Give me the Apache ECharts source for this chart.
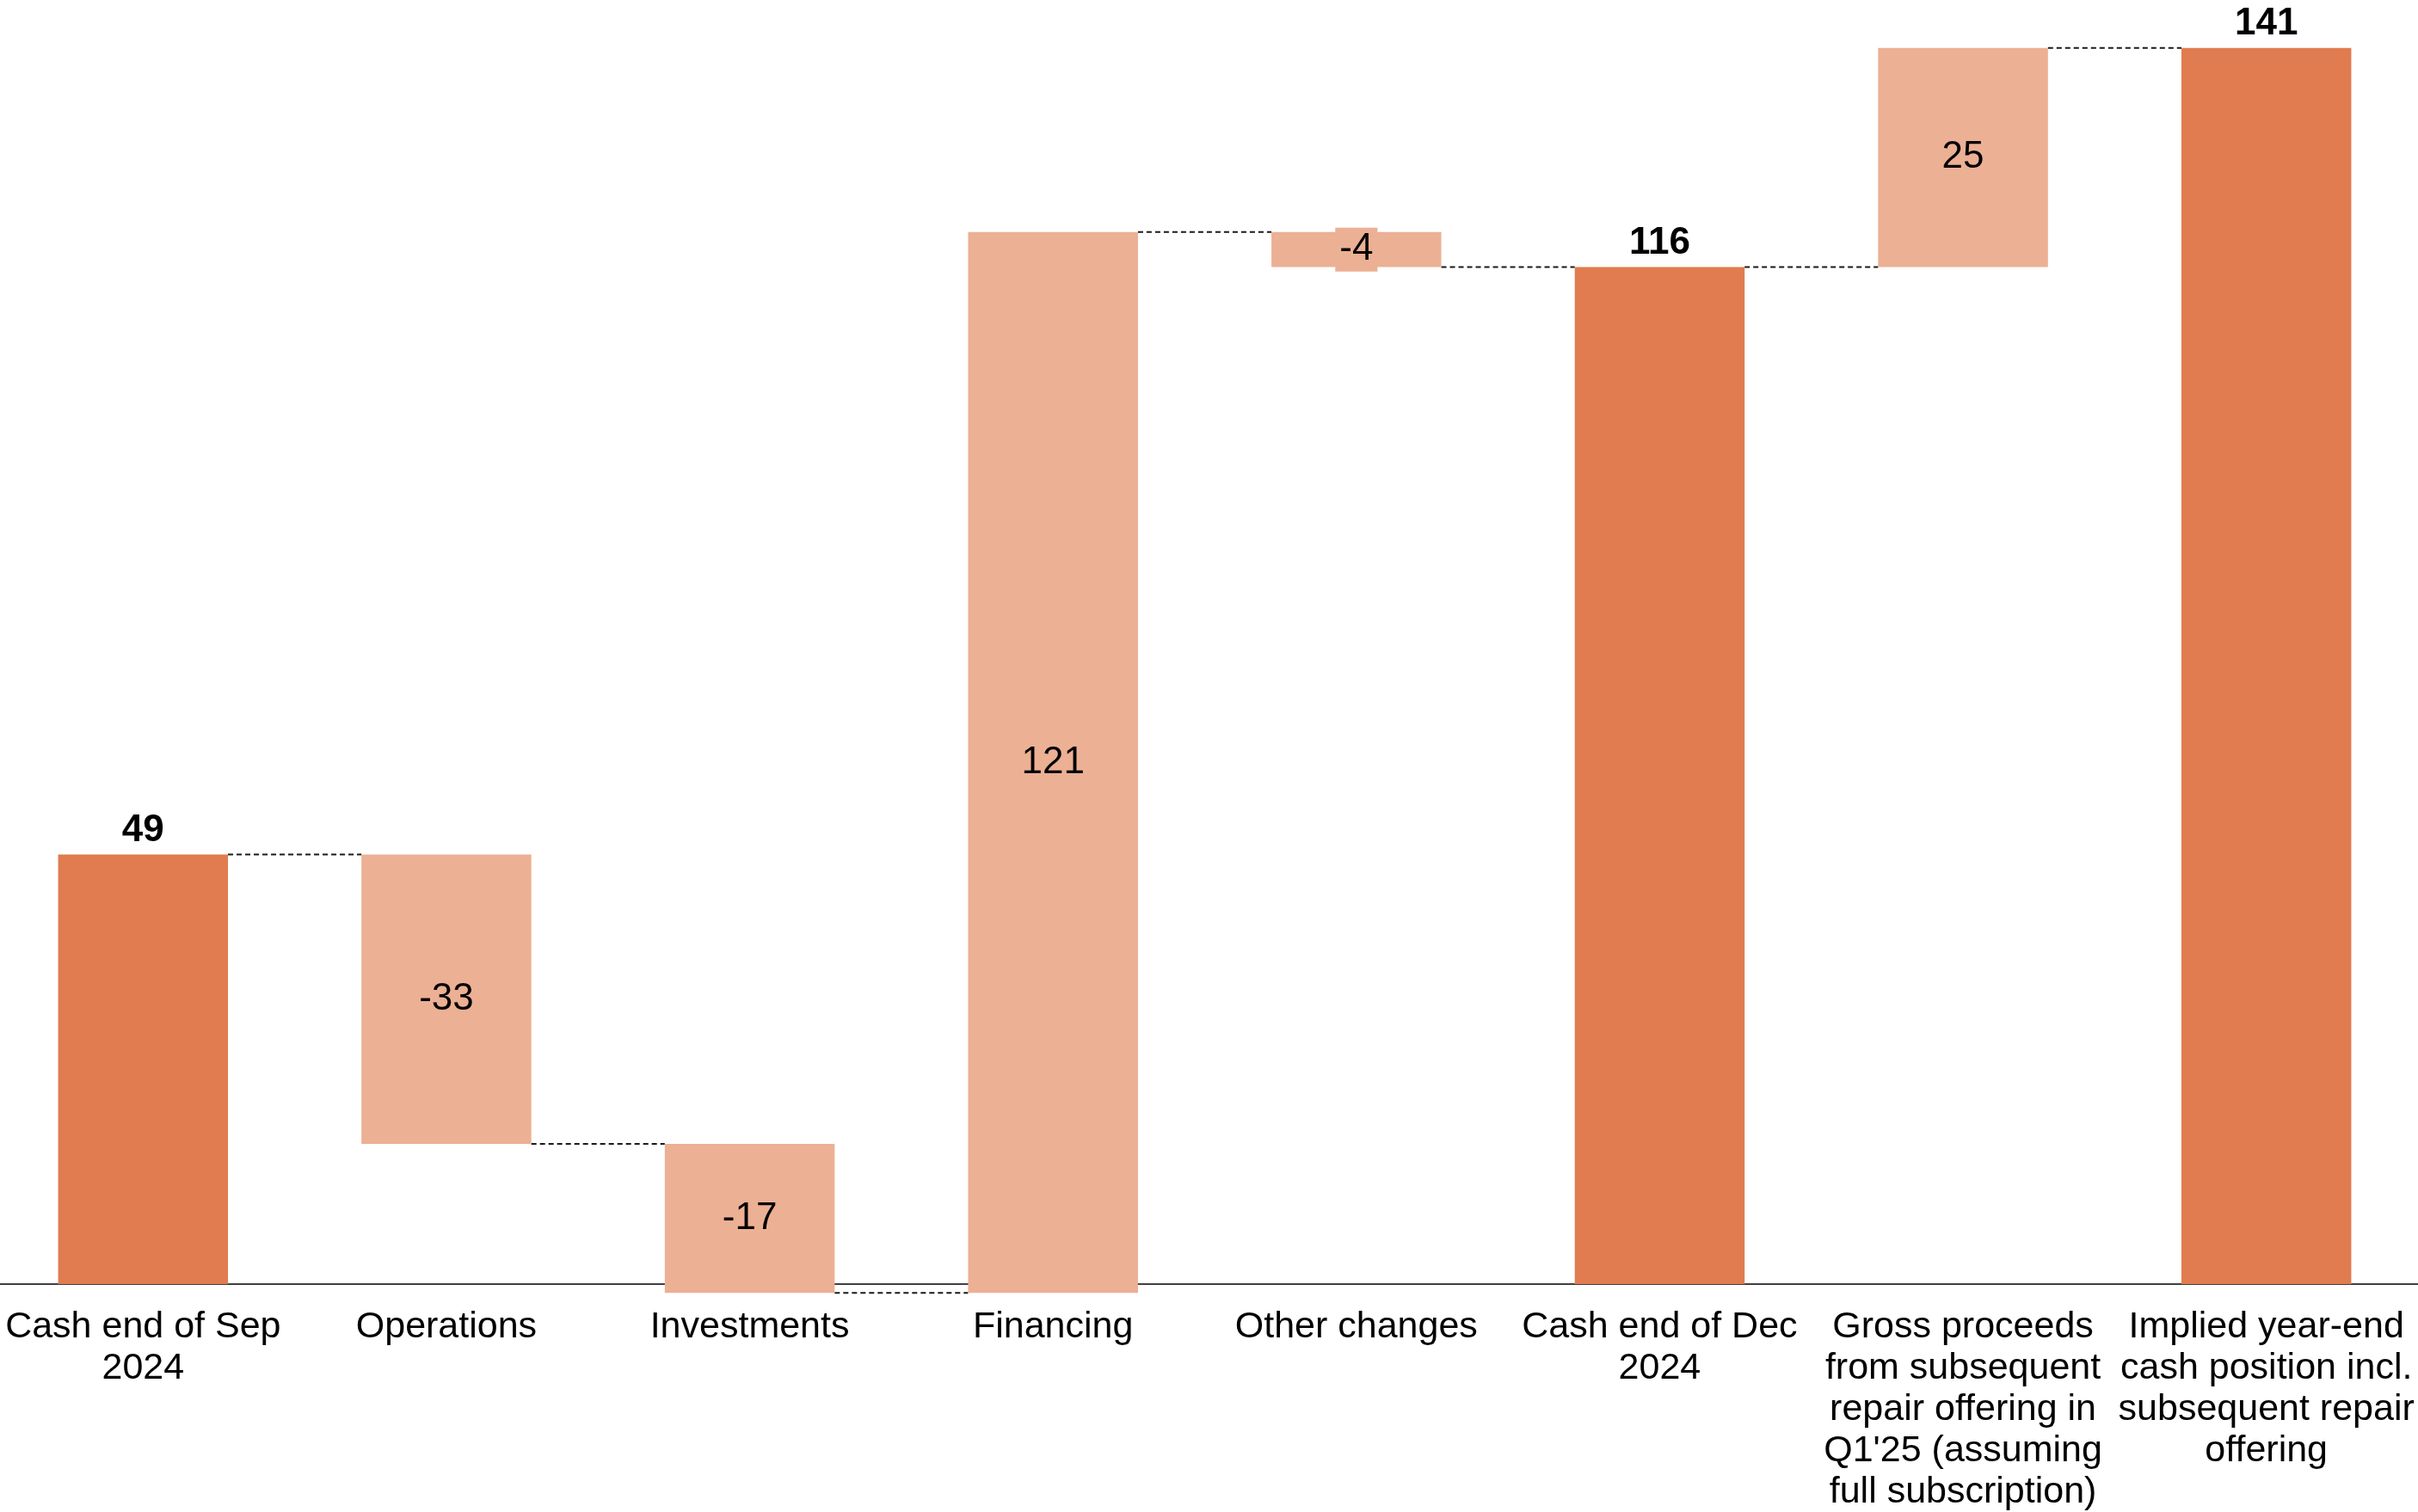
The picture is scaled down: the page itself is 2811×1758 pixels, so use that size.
<!DOCTYPE html>
<html>
<head>
<meta charset="utf-8">
<title>Cash bridge</title>
<script src="https://cdn.jsdelivr.net/npm/echarts@6/dist/echarts.min.js"></script>
<style>
  html, body { margin: 0; padding: 0; background: #ffffff; }
  #chart { width: 2811px; height: 1758px; }
</style>
</head>
<body>
<div id="chart"></div>
<script>
// Cash bridge, in millions
const categories = [
  'Cash end of Sep\n2024',
  'Operations',
  'Investments',
  'Financing',
  'Other changes',
  'Cash end of Dec\n2024',
  "Gross proceeds\nfrom subsequent\nrepair offering in\nQ1'25 (assuming\nfull subscription)",
  'Implied year-end\ncash position incl.\nsubsequent repair\noffering'
];
const values = [49, -33, -17, 121, -4, 116, 25, 141];
const isTotal = [true, false, false, false, false, true, false, true];

const FONT = '"Liberation Sans", Arial, Helvetica, sans-serif';
const DARK = '#E07C4F';
const LIGHT = '#ECB094';
const BAR_RATIO = 0.56;

// Floating segments [index, low, high, value] and running level after each step
const segments = [];
const links = [];
let running = 0;
values.forEach((v, i) => {
  let lo, hi;
  if (isTotal[i]) {
    lo = 0; hi = v; running = v;
  } else {
    const start = running;
    running += v;
    lo = Math.min(start, running);
    hi = Math.max(start, running);
  }
  segments.push([i, lo, hi, v]);
  if (i < values.length - 1) links.push([i, running]);
});

function renderBar(params, api) {
  const i = api.value(0);
  const lo = api.value(1);
  const hi = api.value(2);
  const v = api.value(3);
  const top = api.coord([i, hi]);
  const bot = api.coord([i, lo]);
  const bw = api.size([1, 0])[0] * BAR_RATIO;
  const total = isTotal[i];
  const thin = Math.abs(bot[1] - top[1]) < 50;
  return {
    type: 'rect',
    shape: { x: top[0] - bw / 2, y: top[1], width: bw, height: bot[1] - top[1] },
    style: { fill: total ? DARK : LIGHT },
    textContent: {
      style: {
        text: String(v),
        fill: '#000000',
        fontSize: 44,
        fontFamily: FONT,
        fontWeight: total ? 'bold' : 'normal',
        lineHeight: 47,
        backgroundColor: thin ? LIGHT : 'transparent',
        padding: thin ? [2, 5] : 0
      }
    },
    textConfig: { position: total ? 'top' : 'inside', distance: 4 }
  };
}

function renderLink(params, api) {
  const i = api.value(0);
  const lvl = api.value(1);
  const bw = api.size([1, 0])[0] * BAR_RATIO;
  const a = api.coord([i, lvl]);
  const b = api.coord([i + 1, lvl]);
  return {
    type: 'line',
    shape: { x1: a[0] + bw / 2, y1: a[1], x2: b[0] - bw / 2, y2: b[1] },
    style: { stroke: '#1a1a1a', lineWidth: 2, lineDash: [6, 4] }
  };
}

const chart = echarts.init(document.getElementById('chart'), null, { renderer: 'canvas' });
chart.setOption({
  backgroundColor: '#ffffff',
  animation: false,
  grid: {
    left: -10, right: 0, top: 15, bottom: 265,
    containLabel: false,
    outerBoundsMode: 'none'
  },
  xAxis: {
    type: 'category',
    data: categories,
    axisLine: { show: true, onZero: false, lineStyle: { color: '#404040', width: 2 } },
    axisTick: { show: false },
    splitLine: { show: false },
    axisLabel: {
      interval: 0,
      color: '#000000',
      fontSize: 43,
      lineHeight: 48,
      fontFamily: FONT,
      margin: 26,
      hideOverlap: false
    }
  },
  yAxis: {
    type: 'value',
    min: 0,
    max: 145,
    show: false,
    splitLine: { show: false }
  },
  series: [
    {
      type: 'custom',
      name: 'links',
      renderItem: renderLink,
      encode: { x: 0, y: 1 },
      data: links,
      clip: false,
      z: 1,
      silent: true
    },
    {
      type: 'custom',
      name: 'cash',
      renderItem: renderBar,
      encode: { x: 0, y: [1, 2] },
      data: segments,
      clip: false,
      z: 2
    }
  ]
});
</script>
</body>
</html>
